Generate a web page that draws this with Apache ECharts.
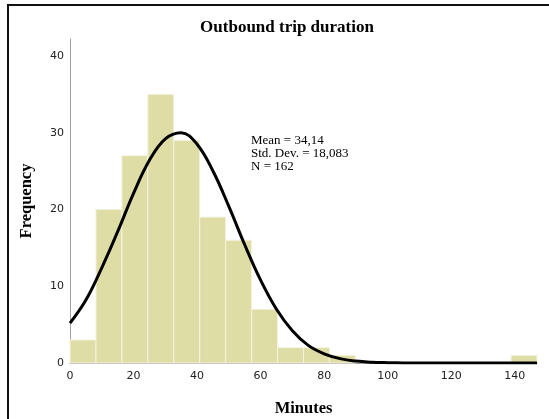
<!DOCTYPE html>
<html>
<head>
<meta charset="utf-8">
<script src="https://cdn.jsdelivr.net/npm/echarts@6/dist/echarts.min.js"></script>
<style>html,body{margin:0;padding:0;background:#fff}#c{width:549px;height:419px}</style>
</head>
<body>
<div id="c"></div>
<script>
// Histogram bin edges (minutes) and counts
const binStarts = [0, 8.17, 16.33, 24.5, 32.67, 40.83, 49, 57.17, 65.33, 73.5, 81.67, 89.83, 98, 106.17, 114.33, 122.5, 130.67, 138.83];
const binEnds   = [8.17, 16.33, 24.5, 32.67, 40.83, 49, 57.17, 65.33, 73.5, 81.67, 89.83, 98, 106.17, 114.33, 122.5, 130.67, 138.83, 147];
const counts    = [3, 20, 27, 35, 29, 19, 16, 7, 2, 2, 1, 0, 0, 0, 0, 0, 0, 1];

// Normal curve
const curveX = [0, 5, 10, 15, 20, 25, 30, 35, 40, 45, 50, 55, 60, 65, 70, 75, 80, 85, 90, 95, 100, 105, 110, 120, 130, 140, 147];
const curveY = [5.2, 8.2, 12.4, 17.1, 22.1, 26.4, 29.2, 30.0, 28.5, 25.0, 20.4, 15.4, 10.8, 7.0, 4.2, 2.3, 1.2, 0.57, 0.25, 0.1, 0.04, 0.01, 0, 0, 0, 0, 0];

const xTicks = [0, 20, 40, 60, 80, 100, 120, 140];
const yTicks = [0, 10, 20, 30, 40];

const statsLines = ['Mean = 34,14', 'Std. Dev. = 18,083', 'N = 162'];

const barData = counts.map((c, i) => [binStarts[i], binEnds[i], c]);
const lineData = curveX.map((x, i) => [x, curveY[i]]);

const chart = echarts.init(document.getElementById('c'), null, {renderer: 'canvas'});
chart.setOption({
  animation: false,
  backgroundColor: '#fff',
  grid: {left: 70, top: 39, right: 12, bottom: 56, containLabel: false, outerBoundsMode: 'none'},
  xAxis: {
    type: 'value', min: 0, max: 147, interval: 20,
    name: 'Minutes', nameLocation: 'middle', nameGap: 37,
    nameTextStyle: {fontFamily: 'Liberation Serif', fontWeight: 'bold', fontSize: 16.5, color: '#000'},
    axisLine: {show: true, lineStyle: {color: '#a0a0a0', width: 1}},
    axisTick: {show: false},
    splitLine: {show: false},
    axisLabel: {
      showMaxLabel: false, margin: 8,
      fontFamily: 'DejaVu Sans', fontSize: 11, color: '#222',
      formatter: v => (xTicks.indexOf(v) >= 0 ? String(v) : '')
    }
  },
  yAxis: {
    type: 'value', min: 0, max: 42.2, interval: 10,
    name: 'Frequency', nameLocation: 'middle', nameGap: 35, nameRotate: 90,
    nameTextStyle: {fontFamily: 'Liberation Serif', fontWeight: 'bold', fontSize: 16.5, color: '#000'},
    axisLine: {show: true, lineStyle: {color: '#a0a0a0', width: 1}},
    axisTick: {show: false},
    splitLine: {show: false},
    axisLabel: {
      showMaxLabel: false, margin: 6,
      fontFamily: 'DejaVu Sans', fontSize: 11, color: '#222',
      formatter: v => (yTicks.indexOf(v) >= 0 ? String(v) : '')
    }
  },
  series: [
    {
      type: 'custom',
      data: barData,
      encode: {x: [0, 1], y: 2},
      z: 2,
      renderItem: function (params, api) {
        const v = api.value(2);
        if (!v) return null;
        const p0 = api.coord([api.value(0), v]);
        const p1 = api.coord([api.value(1), 0]);
        return {
          type: 'rect',
          shape: {x: p0[0], y: p0[1], width: p1[0] - p0[0], height: p1[1] - p0[1]},
          style: {fill: '#dfdda6', stroke: '#f4f3e0', lineWidth: 1}
        };
      }
    },
    {
      type: 'line',
      data: lineData,
      smooth: 0.4,
      showSymbol: false,
      z: 5,
      lineStyle: {color: '#000', width: 3}
    }
  ],
  graphic: [
    {
      type: 'rect', silent: true, z: 100,
      shape: {x: 8, y: 5, width: 560, height: 430},
      style: {fill: 'none', stroke: '#111', lineWidth: 2}
    },
    {
      type: 'text', z: 100, x: 287, y: 28,
      style: {
        text: 'Outbound trip duration', align: 'center', verticalAlign: 'middle',
        fontFamily: 'Liberation Serif', fontWeight: 'bold', fontSize: 17, fill: '#000'
      }
    },
    {
      type: 'text', left: 251, top: 134, z: 100,
      style: {
        text: statsLines.join('\n'),
        fontFamily: 'Liberation Serif', fontSize: 13, lineHeight: 13,
        fill: '#000'
      }
    }
  ]
});
</script>
</body>
</html>
